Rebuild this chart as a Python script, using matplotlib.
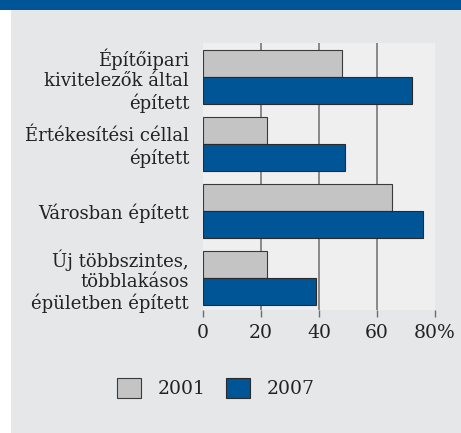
import numpy as np
import matplotlib
matplotlib.use('Agg')
import matplotlib.pyplot as plt
from matplotlib.patches import Rectangle

# data
categories = ['Építőipari\nkivitelezők által\népített',
              'Értékesítési céllal\népített',
              'Városban épített',
              'Új többszintes,\ntöbblakásos\népületben épített']
values_2001 = [48, 22, 65, 22]
values_2007 = [72, 49, 76, 39]
series_names = ['2001', '2007']
xticks = [0, 20, 40, 60, 80]
xtick_labels = ['0', '20', '40', '60', '80%']

plt.rcParams['font.family'] = ['DejaVu Serif']
W, H = 461, 433
fig = plt.figure(figsize=(W / 100, H / 100), dpi=100)
fig.patch.set_facecolor('white')

# background panel and top band
fig.patches.append(Rectangle((11 / W, 0), 1 - 11 / W, 1, transform=fig.transFigure,
                             facecolor='#e6e7e9', edgecolor='none', zorder=-2))
fig.patches.append(Rectangle((0, 1 - 10 / H), 1, 10 / H, transform=fig.transFigure,
                             facecolor='#005596', edgecolor='none', zorder=-1))

ax = fig.add_axes([203 / W, 1 - 310 / H, 232 / W, 267 / H])
ax.set_facecolor('#efefef')

y = np.arange(len(categories))
h = 0.4
ax.barh(y - h / 2, values_2001, height=h, color='#c4c4c4', edgecolor='#3a3a3a',
        linewidth=0.8, label=series_names[0], zorder=3)
ax.barh(y + h / 2, values_2007, height=h, color='#005596', edgecolor='#2a2a2a',
        linewidth=0.8, label=series_names[1], zorder=3)

ax.set_xlim(0, 80)
ax.set_ylim(3.48, -0.51)
ax.set_xticks(xticks)
ax.set_xticklabels(xtick_labels, fontsize=13.5, color='#222222')
ax.set_yticks(y)
ax.set_yticklabels(categories, fontsize=13, color='#222222', linespacing=1.18)
ax.tick_params(axis='y', length=0, pad=10)
ax.tick_params(axis='x', length=5, width=1, color='#6d6d6d', pad=5)
for s in ax.spines.values():
    s.set_visible(False)

ax.grid(axis='x', color='#6d6d6d', linewidth=1.1, zorder=1)
gl = ax.get_xgridlines()
gl[0].set_visible(False)
gl[-1].set_visible(False)
ax.set_axisbelow(True)

leg = fig.legend(loc='center', bbox_to_anchor=(216 / W, 1 - 388 / H), ncol=2,
                 frameon=False, fontsize=13.5, handlelength=1.25, handleheight=1.25,
                 handletextpad=0.9, columnspacing=1.1)
for t in leg.get_texts():
    t.set_color('#222222')

fig.savefig('out.png', dpi=100)
